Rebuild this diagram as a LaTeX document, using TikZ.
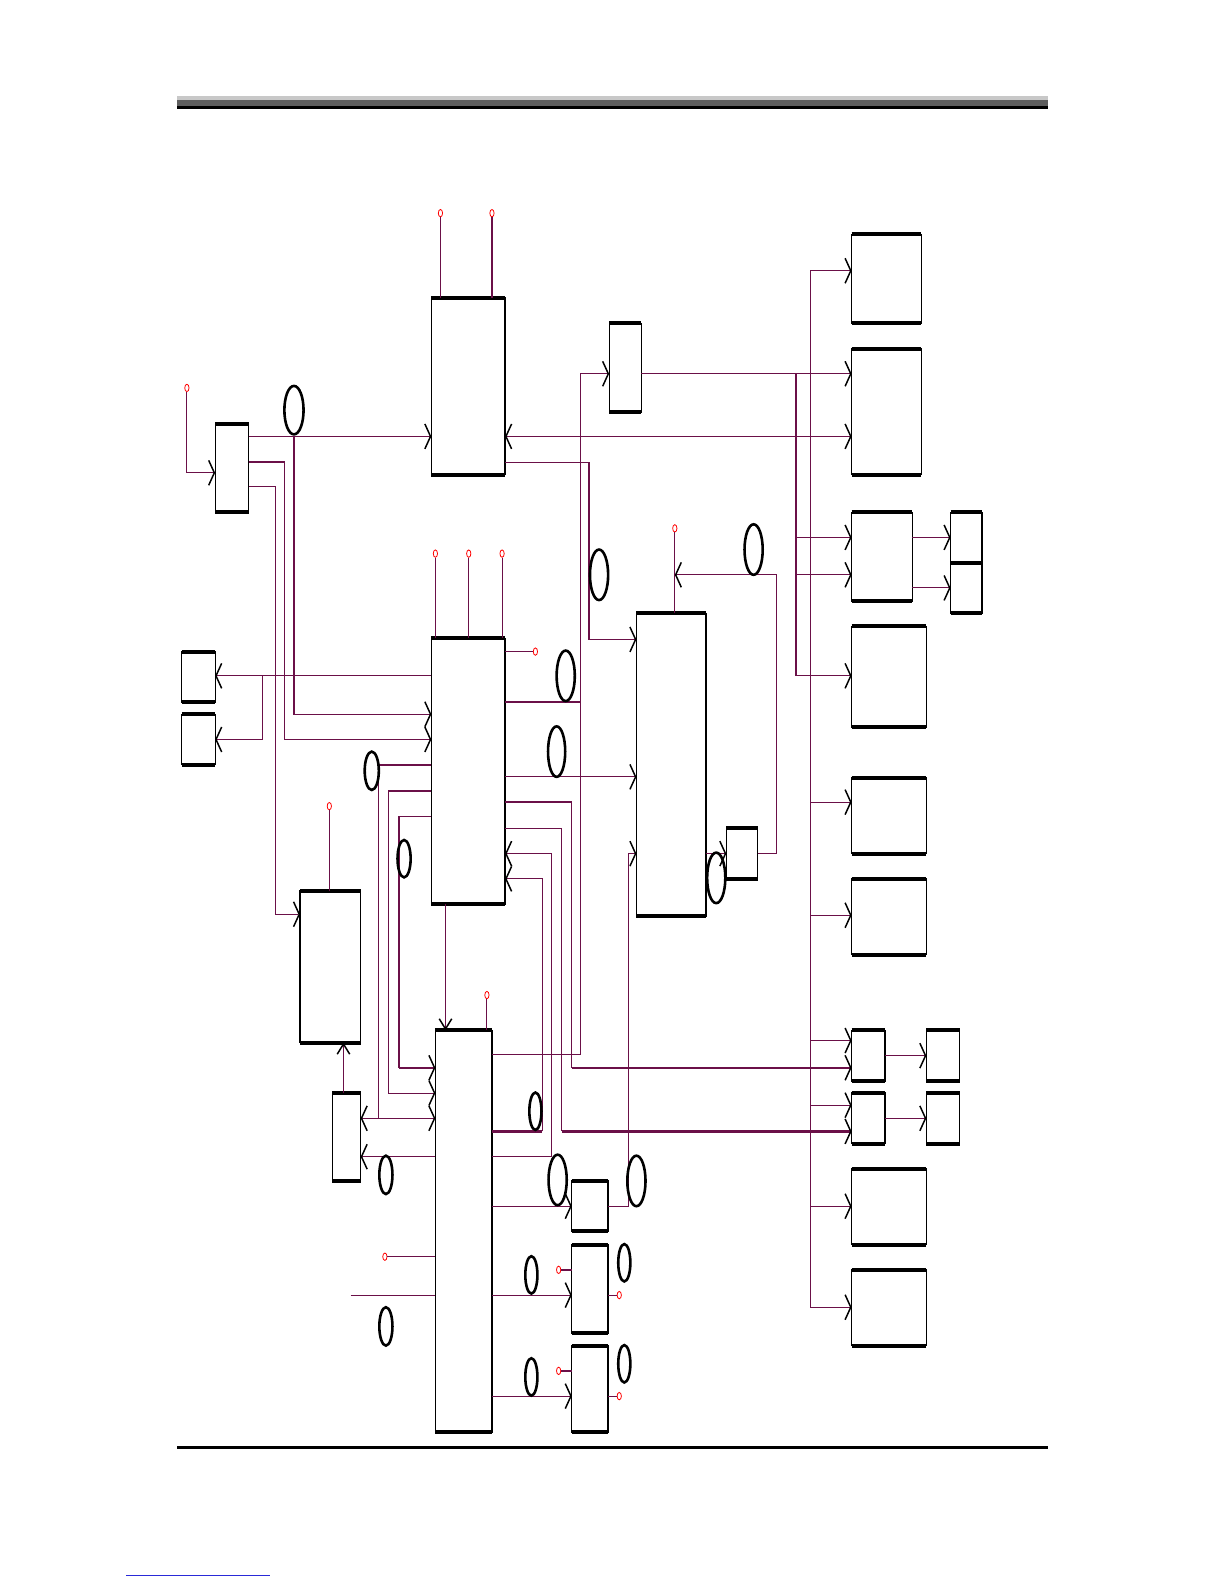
\documentclass[tikz,border=0pt]{standalone}
\usepackage{tikz}
\usetikzlibrary{arrows.meta,shapes.geometric}
\definecolor{wireC}{HTML}{6B1048}
\definecolor{barLight}{HTML}{C8C8C8}
\definecolor{barDark}{HTML}{5E5E5E}
\definecolor{linkBlue}{HTML}{2A2AD8}
\newcommand{\pxl}{0.17813mm}
% unit box from its corners: name, x1, y1, x2, y2
\newcommand{\unitbox}[5]{%
  \node[unit, minimum width={(#4-#2)*\pxl}, minimum height={(#5-#3)*\pxl}]
    (#1) at ({(#2+#4)/2},{(#3+#5)/2}) {};}

\begin{document}
\begin{tikzpicture}[
  x=0.17813mm, y=-0.17813mm,
  line cap=butt, line join=miter,
  >={Straight Barb[length=1mm,width=4.4mm,line width=.75pt,color=black]},
  unit/.style={draw=black, line width=.65pt, inner sep=0pt, outer sep=0pt,
    append after command={
      (\tikzlastnode.north west) edge[draw=black,line width=2pt,-] (\tikzlastnode.north east)
      (\tikzlastnode.south west) edge[draw=black,line width=2pt,-] (\tikzlastnode.south east)}},
  wire/.style={draw=wireC, line width=.55pt},
  heavy/.style={draw=wireC, line width=1.1pt},
  vtip/.style={-{Straight Barb[length=1.8mm,width=2.2mm,line width=.75pt,color=black]}},
  term/.style={ellipse, draw=red, line width=.4pt, inner sep=0pt,
    minimum width=.75mm, minimum height=1.3mm},
  tag/.style={draw=black, line width=1.3pt}
]
\useasboundingbox (0,0) rectangle (1212,1568);

% page rules
\fill[barLight] (175,95.5) rectangle (1037,98.5);
\fill[barDark] (175,98.5) rectangle (1037,105);
\fill[black] (175,105) rectangle (1037,108);
\fill[black] (175,1431.8) rectangle (1037,1434.5);
\draw[linkBlue, line width=.4pt] (125,1559) -- (267,1559);

% units, left and centre
\unitbox{sel}{213}{420}{246}{507}
\unitbox{upr}{427}{295}{500}{470}
\unitbox{mux}{603}{320}{635}{408}
\unitbox{cpu}{427}{632}{500}{895}
\unitbox{lA}{180}{645}{213}{695}
\unitbox{lB}{180}{707}{213}{757}
\unitbox{fwd}{630}{607}{699}{907}
\unitbox{tap}{719}{820}{750}{870}
\unitbox{lft}{297}{882}{357}{1032}
\unitbox{lo}{329}{1082}{357}{1169}
\unitbox{bot}{431}{1020}{487}{1418}
\unitbox{sA}{566}{1169}{602}{1219}
\unitbox{sB}{566}{1232}{602}{1320}
\unitbox{sC}{566}{1332}{602}{1418}

% units, right column
\unitbox{r1}{843}{232}{912}{320}
\unitbox{r2}{843}{345}{912}{470}
\unitbox{r3}{843}{507}{903}{595}
\unitbox{r3a}{941}{507}{972}{557}
\unitbox{r3b}{941}{557}{972}{607}
\unitbox{r4}{843}{620}{917}{720}
\unitbox{r5}{843}{770}{917}{845}
\unitbox{r6}{843}{870}{917}{945}
\unitbox{r7}{843}{1020}{876}{1070}
\unitbox{r7b}{917}{1020}{950}{1070}
\unitbox{r8}{843}{1082}{876}{1132}
\unitbox{r8b}{917}{1082}{950}{1132}
\unitbox{r9}{843}{1157}{917}{1232}
\unitbox{r10}{843}{1257}{917}{1332}

% terminals
\node[term] (t1) at (185,384) {};
\node[term] (t2) at (436,211) {};
\node[term] (t3) at (487,211) {};
\node[term] (t4) at (431,548) {};
\node[term] (t5) at (464,548) {};
\node[term] (t6) at (497,548) {};
\node[term] (t7) at (530,645) {};
\node[term] (t8) at (668,523) {};
\node[term] (t9) at (326,798) {};
\node[term] (t10) at (482,985) {};
\node[term] (t11) at (381,1244) {};
\node[term] (t12) at (553,1257) {};
\node[term] (t13) at (613,1282) {};
\node[term] (t14) at (553,1357) {};
\node[term] (t15) at (613,1382) {};

% left input stage
\draw[wire,->] (t1.south) -- (185,468) -- (sel.west |- 0,468);
\draw[wire,->] (sel.east |- 0,432) -- (upr.west |- 0,432);
\draw[wire,->] (291,432) -- (291,707) -- (cpu.west |- 0,707);
\draw[wire,->] (sel.east |- 0,457) -- (282,457) -- (282,732) -- (cpu.west |- 0,732);
\draw[heavy] (sel.east |- 0,457) -- (282,457);
\draw[wire,->] (sel.east |- 0,482) -- (273,482) -- (273,905) -- (lft.west |- 0,905);
\draw[wire,->] (cpu.west |- 0,669) -- (lA.east |- 0,669);
\draw[wire,->] (260,669) -- (260,732) -- (lB.east |- 0,732);

% upper unit
\draw[wire] (t2.south) -- (t2.south |- upr.north);
\draw[wire] (t3.south) -- (t3.south |- upr.north);
\draw[wire,<->] (upr.east |- 0,432) -- (r2.west |- 0,432);
\draw[wire,->] (upr.east |- 0,458) -- (583,458) -- (583,633) -- (fwd.west |- 0,633);

% selector and its fan-out
\draw[wire,->] (bot.east |- 0,1044) -- (575,1044) -- (575,370) -- (mux.west |- 0,370);
\draw[heavy] (cpu.east |- 0,695) -- (575,695);
\draw[wire,->] (mux.east |- 0,370) -- (r2.west |- 0,370);
\draw[wire,->] (788,370) -- (788,669) -- (r4.west |- 0,669);
\draw[wire,->] (788,532) -- (r3.west |- 0,532);
\draw[wire,->] (788,569) -- (r3.west |- 0,569);

% right bus
\draw[wire] (802,268) -- (802,1294);
\foreach \yy/\dst in {268/r1, 794/r5, 906/r6, 1030/r7, 1094/r8, 1194/r9, 1294/r10}
  \draw[wire,->] (802,\yy) -- (\dst.west |- 0,\yy);
\draw[wire,->] (r3.east |- 0,532) -- (r3a.west |- 0,532);
\draw[wire,->] (r3.east |- 0,582) -- (r3b.west |- 0,582);
\draw[wire,->] (r7.east |- 0,1045) -- (r7b.west |- 0,1045);
\draw[wire,->] (r8.east |- 0,1107) -- (r8b.west |- 0,1107);

% centre unit
\draw[wire] (t4.south) -- (t4.south |- cpu.north);
\draw[wire] (t5.south) -- (t5.south |- cpu.north);
\draw[wire] (t6.south) -- (t6.south |- cpu.north);
\draw[wire] (cpu.east |- 0,645) -- (t7.west);
\draw[wire,->] (cpu.east |- 0,769) -- (fwd.west |- 0,769);
\draw[heavy] (cpu.east |- 0,794) -- (566,794);
\draw[wire] (566,794) -- (566,1057);
\draw[heavy,->] (566,1057) -- (r7.west |- 0,1057);
\draw[wire] (cpu.east |- 0,820) -- (556,820) -- (556,1120);
\draw[heavy,->] (556,1120) -- (r8.west |- 0,1120);
\draw[wire,->] (bot.east |- 0,1145) -- (546,1145) -- (546,845) -- (cpu.east |- 0,845);
\draw[heavy] (bot.east |- 0,1120) -- (537,1120);
\draw[wire,->] (537,1120) -- (537,870) -- (cpu.east |- 0,870);
\draw[wire,vtip] (cpu.south -| 441,0) -- (bot.north -| 441,0);

% left of centre
\draw[heavy] (375,757) -- (cpu.west |- 0,757);
\draw[wire] (375,757) -- (375,1107);
\draw[wire,<->] (lo.east |- 0,1107) -- (bot.west |- 0,1107);
\draw[wire,->] (cpu.west |- 0,783) -- (385,783) -- (385,1082) -- (bot.west |- 0,1082);
\draw[wire] (cpu.west |- 0,808) -- (395,808) -- (395,1057);
\draw[heavy,->] (395,1057) -- (bot.west |- 0,1057);
\draw[wire,->] (bot.west |- 0,1145) -- (lo.east |- 0,1145);
\draw[wire,vtip] (lo.north -| 340,0) -- (lft.south -| 340,0);
\draw[wire] (t9.south) -- (t9.south |- lft.north);

% forward unit
\draw[wire] (t8.south) -- (t8.south |- fwd.north);
\draw[wire,->] (tap.east |- 0,845) -- (769,845) -- (769,569) -- (t8 |- 0,569);
\draw[wire,->] (fwd.east |- 0,845) -- (tap.west |- 0,845);
\draw[wire,->] (sA.east |- 0,1194) -- (622,1194) -- (622,845) -- (fwd.west |- 0,845);

% bottom unit
\draw[wire] (t10.south) -- (t10.south |- bot.north);
\draw[wire] (t11.east) -- (bot.west |- 0,1244);
\draw[wire] (347,1282) -- (bot.west |- 0,1282);
\draw[wire,->] (bot.east |- 0,1194) -- (sA.west |- 0,1194);
\draw[wire,->] (bot.east |- 0,1282) -- (sB.west |- 0,1282);
\draw[wire,->] (bot.east |- 0,1382) -- (sC.west |- 0,1382);
\draw[heavy] (t12.east) -- (sB.west |- 0,1257);
\draw[wire] (sB.east |- 0,1282) -- (t13.west);
\draw[heavy] (t14.east) -- (sC.west |- 0,1357);
\draw[wire] (sC.east |- 0,1382) -- (t15.west);

% empty label rings
\foreach \cx/\cy/\rw/\rh in {291/406/9.5/24, 593/569/9/25, 746/544/9/25,
    560/669/9/25, 551/744/8.5/25, 368/763/7/19, 400/850/6.5/18.5,
    530/1100/6/18.5, 382/1163/6.5/19, 552/1168/9/25, 630/1169/9/25,
    526/1262/6/18.5, 618/1250/6/18.5, 526/1363/6/18.5, 618/1350/6/18.5,
    382/1313/6.5/19, 709/869/9/25}
  \draw[tag] (\cx,\cy) ellipse[x radius=\rw, y radius=\rh];
\end{tikzpicture}
\end{document}
